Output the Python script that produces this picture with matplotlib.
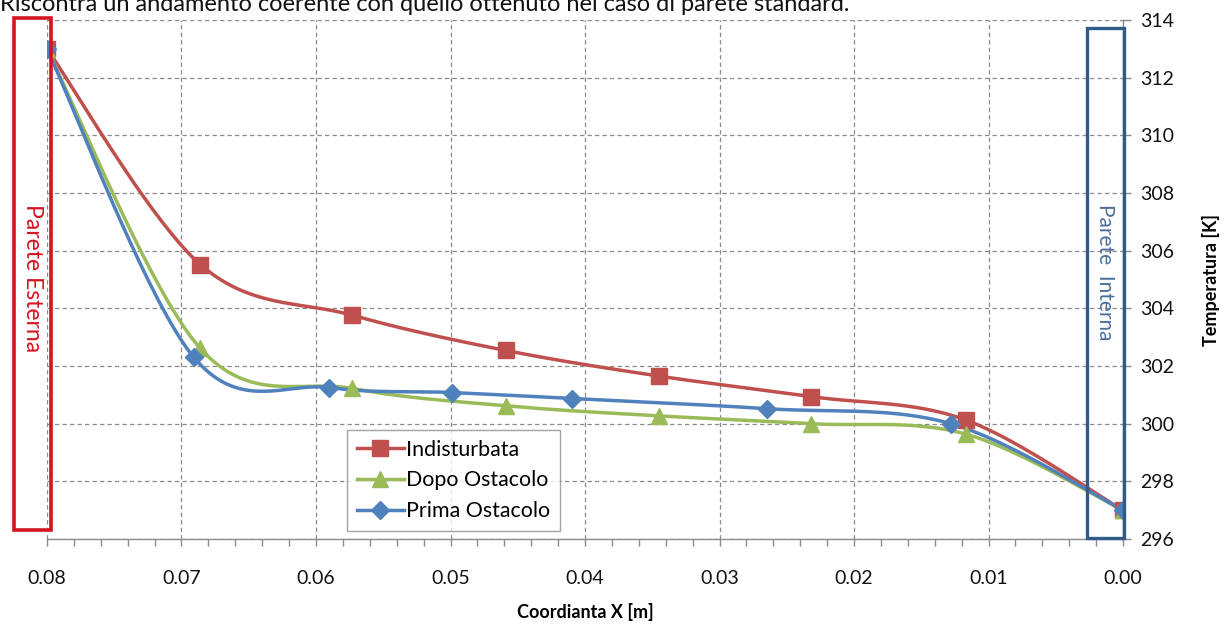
import numpy as np
import matplotlib
matplotlib.use("Agg")
import matplotlib.pyplot as plt
from matplotlib.lines import Line2D
from matplotlib.patches import Rectangle

plt.rcParams['font.family'] = ['Lato', 'DejaVu Sans']

# ---------------- data ----------------
x_ind = [0.08, 0.0686, 0.0573, 0.0459, 0.0345, 0.0232, 0.0117, 0.0]
y_ind = [313.0, 305.52, 303.76, 302.54, 301.65, 300.94, 300.13, 297.0]

x_dopo = [0.08, 0.0686, 0.0573, 0.0459, 0.0345, 0.0232, 0.0117, 0.0]
y_dopo = [313.0, 302.61, 301.22, 300.62, 300.27, 300.0, 299.64, 297.0]

x_prima = [0.08, 0.0691, 0.0590, 0.0499, 0.0410, 0.0265, 0.0128, 0.0]
y_prima = [313.0, 302.31, 301.25, 301.08, 300.87, 300.52, 300.0, 297.0]

series_names = ["Indisturbata", "Dopo Ostacolo", "Prima Ostacolo"]
x_ticks = [0.08, 0.07, 0.06, 0.05, 0.04, 0.03, 0.02, 0.01, 0.00]
x_tick_labels = ["0.08", "0.07", "0.06", "0.05", "0.04", "0.03", "0.02", "0.01", "0.00"]
y_ticks = [296, 298, 300, 302, 304, 306, 308, 310, 312, 314]

top_text = "Riscontra un andamento coerente con quello ottenuto nel caso di parete standard."


def smooth(xs, ys, n=40):
    """Excel-like smoothed line (Catmull-Rom Bezier) through the points."""
    P = np.column_stack([xs, ys]).astype(float)
    out = []
    m = len(P)
    t = np.linspace(0, 1, n)[:, None]
    for i in range(m - 1):
        p0 = P[i - 1] if i > 0 else P[i]
        p1 = P[i]
        p2 = P[i + 1]
        p3 = P[i + 2] if i + 2 < m else P[i + 1]
        c1 = p1 + (p2 - p0) / 6.0
        c2 = p2 - (p3 - p1) / 6.0
        seg = ((1 - t) ** 3) * p1 + 3 * ((1 - t) ** 2) * t * c1 + 3 * (1 - t) * t ** 2 * c2 + t ** 3 * p2
        out.append(seg if i == 0 else seg[1:])
    out = np.vstack(out)
    return out[:, 0], out[:, 1]


W, H = 1229, 632
fig = plt.figure(figsize=(W / 100, H / 100), dpi=100)
ax = fig.add_axes([47 / W, 1 - 539 / H, (1123 - 47) / W, (539 - 20) / H])

c_red, c_green, c_blue = "#C0504D", "#9BBB59", "#4F81BD"
specs = [
    (x_ind, y_ind, c_red, "s", 12),
    (x_dopo, y_dopo, c_green, "^", 12),
    (x_prima, y_prima, c_blue, "D", 9),
]
handles = []
for (xs, ys, col, mk, ms), name in zip(specs, series_names):
    sx, sy = smooth(xs, ys)
    ax.plot(sx, sy, color=col, lw=2.5, solid_capstyle="round", zorder=3)
    ax.plot(xs, ys, ls="none", marker=mk, ms=ms, color=col, mec=col, zorder=4)
    handles.append(Line2D([], [], color=col, lw=2.5, marker=mk, ms=ms, mec=col))

ax.set_xlim(0.08, 0.0)
ax.set_ylim(296, 314)
ax.set_xticks(x_ticks)
ax.set_xticklabels(x_tick_labels)
ax.set_xticks(np.arange(0.0, 0.0801, 0.002), minor=True)
ax.set_yticks(y_ticks)
ax.yaxis.tick_right()
ax.yaxis.set_label_position("right")

for s in ["left", "top"]:
    ax.spines[s].set_visible(False)
ax.spines["bottom"].set_color("#8c8c8c")
ax.spines["right"].set_color("#8c8c8c")
ax.spines["bottom"].set_linewidth(1.0)
ax.spines["right"].set_linewidth(1.0)

ax.tick_params(axis="x", which="both", direction="out", length=5, width=1, color="#8c8c8c",
               labelsize=14, pad=17, labelcolor="#111111")
ax.tick_params(axis="y", which="both", direction="out", length=6, width=1, color="#8c8c8c",
               labelsize=14, pad=6, labelcolor="#111111")

ax.grid(True, which="major", color="#8a8a8a", lw=0.9, ls=(0, (3.5, 2.5)))
ax.set_axisbelow(True)

ax.set_xlabel("Coordianta X [m]", fontsize=13, fontweight="bold", labelpad=12)
ax.set_ylabel("Temperatura [K]", fontsize=13, fontweight="bold", labelpad=20)

leg = ax.legend(handles, series_names, loc="upper left",
                bbox_to_anchor=(347 / W, 1 - 430 / H), bbox_transform=fig.transFigure,
                borderaxespad=0, fancybox=False, frameon=True, fontsize=15.4,
                handlelength=2.2, handletextpad=0.1, labelspacing=0.5,
                borderpad=0.45)
leg.get_frame().set_edgecolor("#8c8c8c")
leg.get_frame().set_linewidth(1.0)
leg.set_zorder(6)

# wall boxes
fig.add_artist(Rectangle((14 / W, 1 - 530 / H), 37 / W, 512 / H, transform=fig.transFigure,
                         fill=False, edgecolor="#D4141E", lw=2.6, zorder=5))
fig.add_artist(Rectangle((1087 / W, 1 - 538 / H), 37 / W, 510 / H, transform=fig.transFigure,
                         fill=False, edgecolor="#2F5A8A", lw=2.4, zorder=5))
fig.text(32 / W, 1 - 278 / H, "Parete Esterna", rotation=270, color="#D4141E",
         fontsize=16.5, ha="center", va="center")
fig.text(1105 / W, 1 - 272 / H, "Parete  Interna", rotation=270, color="#4A6E9C",
         fontsize=15, ha="center", va="center")

fig.text(0.0, 1 - 11 / H, top_text, fontsize=17, color="#111111", ha="left", va="baseline")

fig.savefig("out.png", dpi=100)
